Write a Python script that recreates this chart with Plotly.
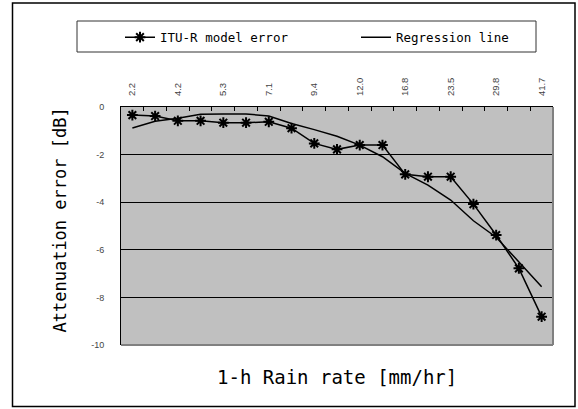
import plotly.graph_objects as go

# ---- data ----
tick_labels = ["2.2", "4.2", "5.3", "7.1", "9.4", "12.0", "16.8", "23.5", "29.8", "41.7"]
itu_error = [-0.34, -0.38, -0.58, -0.58, -0.66, -0.66, -0.62, -0.89, -1.53, -1.78,
             -1.60, -1.60, -2.83, -2.93, -2.93, -4.08, -5.38, -6.78, -8.81]
regression = [-0.88, -0.60, -0.47, -0.30, -0.29, -0.29, -0.38, -0.69, -0.95, -1.23,
              -1.60, -2.09, -2.79, -3.28, -3.91, -4.78, -5.47, -6.52, -7.55]
y_ticks = [0, -2, -4, -6, -8, -10]

n = len(itu_error)
xs = list(range(n))

W, H = 578, 409
L, R, T, B = 121, 25, 107, 64
pw, ph = W - L - R, H - T - B


def px(x):
    return (x - L) / pw


def py(y):
    return (H - B - y) / ph


legend_font = dict(family="DejaVu Sans Mono", size=12.5, color="black")

fig = go.Figure()
fig.add_trace(go.Scatter(
    x=xs, y=itu_error, name="ITU-R model error", mode="lines+markers",
    line=dict(color="black", width=1.5),
    marker=dict(symbol="asterisk-open", size=9, line=dict(color="black", width=2)),
    legend="legend",
))
fig.add_trace(go.Scatter(
    x=xs, y=regression, name="Regression line", mode="lines",
    line=dict(color="black", width=1.5),
    legend="legend2",
))

fig.update_layout(
    width=W, height=H,
    margin=dict(l=L, r=R, t=T, b=B),
    paper_bgcolor="white", plot_bgcolor="#c0c0c0",
    showlegend=True,
    legend=dict(
        orientation="h", x=px(120), xanchor="left", y=py(22.5), yanchor="top",
        font=legend_font, bgcolor="rgba(0,0,0,0)", borderwidth=0,
    ),
    legend2=dict(
        orientation="h", x=px(356), xanchor="left", y=py(22.5), yanchor="top",
        font=legend_font, bgcolor="rgba(0,0,0,0)", borderwidth=0,
    ),
    xaxis=dict(
        side="top", range=[-0.5, n - 0.5],
        tickmode="array", tickvals=xs[::2], ticktext=tick_labels,
        tickangle=-90, ticks="", ticklabelstandoff=8,
        tickfont=dict(family="Liberation Sans", size=9.5, color="#444"),
        showgrid=False, zeroline=False,
        showline=True, linecolor="black", linewidth=1,
        minor=dict(tickvals=[i + 0.5 for i in range(n - 1)], ticks="inside",
                   ticklen=4, tickcolor="black", tickwidth=1, showgrid=False),
    ),
    yaxis=dict(
        range=[-10, 0], tickmode="array", tickvals=y_ticks,
        ticktext=[str(v) for v in y_ticks],
        ticks="", ticklabelstandoff=14,
        tickfont=dict(family="Liberation Sans", size=9, color="#444"),
        showgrid=True, gridcolor="black", gridwidth=1, zeroline=False,
        showline=True, linecolor="black", linewidth=1,
    ),
    shapes=[
        # outer frame
        dict(type="rect", xref="paper", yref="paper",
             x0=px(12.5), x1=px(575), y0=py(406.5), y1=py(3),
             line=dict(color="black", width=1.5)),
        # legend box
        dict(type="rect", xref="paper", yref="paper",
             x0=px(77), x1=px(536), y0=py(52), y1=py(21),
             line=dict(color="#333", width=1)),
        # right and bottom plot borders (gray)
        dict(type="line", xref="paper", yref="paper", x0=1, x1=1, y0=0, y1=1,
             line=dict(color="#808080", width=2), layer="above"),
        dict(type="line", xref="paper", yref="paper", x0=0, x1=1, y0=0, y1=0,
             line=dict(color="#808080", width=2), layer="above"),
    ],
    annotations=[
        dict(text="Attenuation error [dB]", xref="paper", yref="paper",
             x=px(59), y=py(220.5), xanchor="center", yanchor="middle",
             textangle=-90, showarrow=False,
             font=dict(family="DejaVu Sans Mono", size=17, color="black")),
        dict(text="1-h Rain rate [mm/hr]", xref="paper", yref="paper",
             x=px(337), y=py(377), xanchor="center", yanchor="middle",
             showarrow=False,
             font=dict(family="DejaVu Sans Mono", size=19, color="black")),
    ],
)

fig.write_html("out.html")
